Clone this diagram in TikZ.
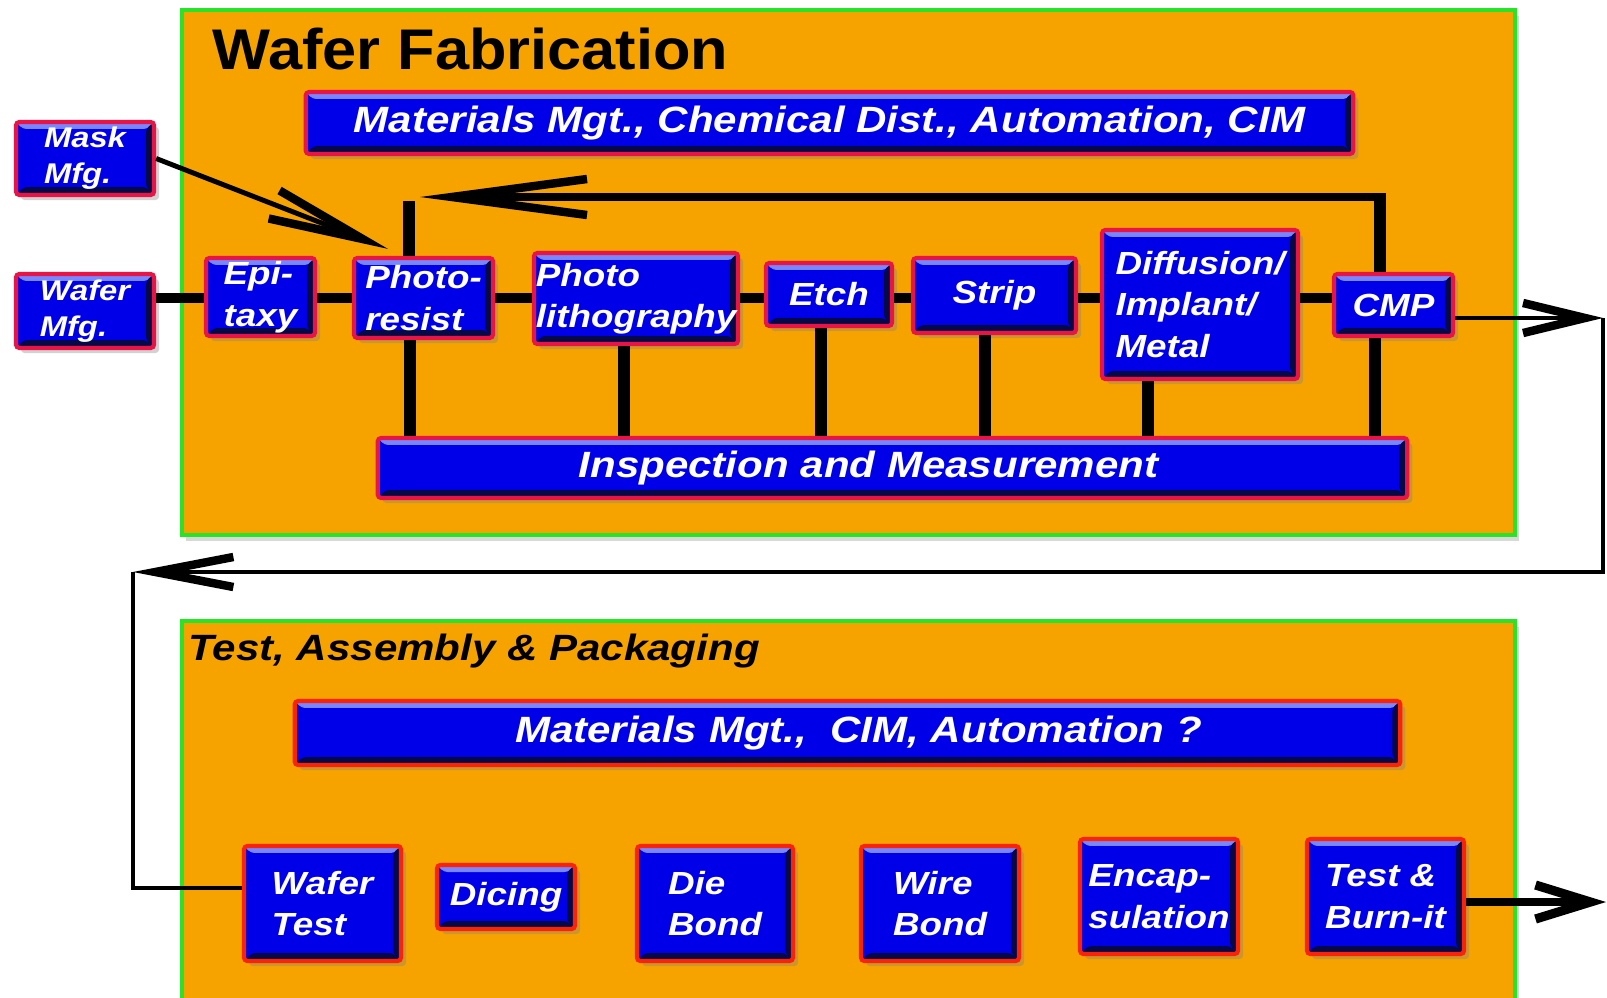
\documentclass[tikz,border=0pt]{standalone}
\usepackage{fontspec}
\setmainfont{Liberation Sans}
\newfontfamily\boxfont[FakeStretch=1.15]{Liberation Sans}
\newfontfamily\titlefont[FakeStretch=1.07]{Liberation Sans}
\usetikzlibrary{arrows.meta,shadows}

\definecolor{fondorange}{RGB}{246,163,0}
\definecolor{bordvert}{RGB}{40,228,40}
\definecolor{boitebleu}{RGB}{0,0,232}
\definecolor{boiteclair}{RGB}{120,135,255}
\definecolor{boitesombre}{RGB}{5,10,70}
\definecolor{bordrouge}{RGB}{232,20,70}
\definecolor{bordrouge2}{RGB}{250,35,10}

\tikzset{
	biseau/.style={path picture={
		\fill [boiteclair] (path picture bounding box.north west) -- (path picture bounding box.north east) -- ([shift={(-0.07cm,-0.07cm)}]path picture bounding box.north east) -- ([shift={(0.07cm,-0.07cm)}]path picture bounding box.north west) -- cycle ;
		\fill [boitesombre] (path picture bounding box.south west) -- (path picture bounding box.south east) -- ([shift={(-0.08cm,0.08cm)}]path picture bounding box.south east) -- ([shift={(0.08cm,0.08cm)}]path picture bounding box.south west) -- cycle ;
		\fill [boitesombre] (path picture bounding box.north east) -- (path picture bounding box.south east) -- ([shift={(-0.08cm,0.08cm)}]path picture bounding box.south east) -- ([shift={(-0.08cm,-0.07cm)}]path picture bounding box.north east) -- cycle ;
	}},
	boite/.style={draw=bordrouge, line width=1.2pt, fill=boitebleu, rounded corners=1pt, text=white, align=left, inner sep=0pt, biseau,
		drop shadow={shadow xshift=0.05cm, shadow yshift=-0.05cm, opacity=0.35},
		font=\boxfont\bfseries\itshape\fontsize{9.1}{11.8}\selectfont},
	boite2/.style={boite, draw=bordrouge2},
	barre/.style={boite, font=\boxfont\bfseries\itshape\fontsize{10.4}{12}\selectfont},
	petite/.style={boite, font=\boxfont\bfseries\itshape\fontsize{8.1}{10.3}\selectfont},
	panneau/.style={fill=fondorange, draw=bordvert, line width=1.3pt, drop shadow={shadow xshift=0.04cm, shadow yshift=-0.06cm, opacity=0.3}},
	chaine/.style={line width=2.8pt},
	sonde/.style={line width=3.4pt},
	retourfl/.style={line width=2pt},
	fleche/.style={line width=1.4pt},
}

\begin{document}
\begin{tikzpicture}[x=0.01cm,y=-0.01cm]
	%Cadre
	\clip (0,0) rectangle (1607,997) ;
	\fill [white] (0,0) rectangle (1607,997) ;
	%Panneaux
	\draw [panneau]		(182,10)	rectangle (1515,535)	;
	\draw [panneau]		(182,621)	rectangle (1515,1012)	;
	%Titres
	\path (212,70)	node [anchor=base west, inner sep=0pt, font=\titlefont\bfseries\fontsize{16.3}{19}\selectfont] (titre1) {Wafer Fabrication} ;
	\path (188,660)	node [anchor=base west, inner sep=0pt, font=\boxfont\bfseries\itshape\fontsize{10.4}{12}\selectfont] (titre2) {Test, Assembly \& Packaging} ;
	%Barres
	\path (829.5,123)	node [barre, minimum width=10.47cm, minimum height=0.62cm]	(materiaux)	{Materials Mgt., Chemical Dist., Automation, CIM} ;
	\path (892.5,468)	node [barre, minimum width=10.29cm, minimum height=0.60cm]	(controle)	{Inspection and Measurement\hspace*{0.48cm}} ;
	\path (847.5,733)	node [barre, draw=bordrouge2, minimum width=11.05cm, minimum height=0.64cm]	(materiaux2)	{\hspace*{0.22cm}Materials Mgt.,\ \ CIM, Automation ?} ;
	%Entrees
	\path (85,158.5)	node [petite, minimum width=1.38cm, minimum height=0.73cm]	(mask)	{Mask\\Mfg.} ;
	\path (85,311)		node [petite, minimum width=1.38cm, minimum height=0.74cm]	(wmfg)	{Wafer\\Mfg.} ;
	%Etapes fab
	\path (260.5,297)	node [boite, minimum width=1.09cm, minimum height=0.78cm]	(epi)		{Epi-\\taxy} ;
	\path (423.5,298)	node [boite, minimum width=1.39cm, minimum height=0.80cm]	(presist)	{Photo-\\resist} ;
	\path (636,298.5)	node [boite, minimum width=2.04cm, minimum height=0.91cm]	(plitho)	{Photo\\lithography} ;
	\path (829,294.5)	node [boite, minimum width=1.26cm, minimum height=0.63cm]	(etch)		{Etch} ;
	\path (994.5,295.5)	node [boite, minimum width=1.63cm, minimum height=0.75cm]	(strip)		{Strip} ;
	\path (1200,304.5)	node [boite, minimum width=1.96cm, minimum height=1.49cm]	(diff)		{Diffusion/\\Implant/\\Metal} ;
	\path (1393.5,305)	node [boite, minimum width=1.19cm, minimum height=0.62cm]	(cmp)		{CMP} ;
	%Etapes assemblage
	\path (322.5,903.5)	node [boite2, minimum width=1.57cm, minimum height=1.15cm]	(wtest)		{Wafer\\Test} ;
	\path (506,897)		node [boite2, minimum width=1.38cm, minimum height=0.64cm]	(dicing)	{Dicing} ;
	\path (715,903.5)	node [boite2, minimum width=1.56cm, minimum height=1.15cm]	(diebond)	{Die\\Bond} ;
	\path (940,903.5)	node [boite2, minimum width=1.58cm, minimum height=1.15cm]	(wirebond)	{Wire\\Bond} ;
	\path (1159,896.5)	node [boite2, minimum width=1.58cm, minimum height=1.15cm]	(encap)		{Encap-\\sulation} ;
	\path (1385.5,896.5)	node [boite2, minimum width=1.57cm, minimum height=1.15cm]	(tburn)		{Test \&\\Burn-it} ;
	%Points
	\coordinate (niv)		at (0,298)		;
	\coordinate (coin)		at (1380,197)	;
	\coordinate (pointe)	at (420,197)	;
	\coordinate (talon)		at (409,201)	;
	\coordinate (droite)	at (1603,318)	;
	\coordinate (bas)		at (1603,572)	;
	\coordinate (gauche)	at (133,572)	;
	\coordinate (entree)	at (133,888)	;
	\coordinate (sortie)	at (1606,902)	;
	%Chaine
	\draw [chaine]	(wmfg.east |- niv)		-- (epi.west |- niv)		;
	\draw [chaine]	(epi.east |- niv)		-- (presist.west |- niv)	;
	\draw [chaine]	(presist.east |- niv)	-- (plitho.west |- niv)		;
	\draw [chaine]	(plitho.east |- niv)	-- (etch.west |- niv)		;
	\draw [chaine]	(etch.east |- niv)		-- (strip.west |- niv)		;
	\draw [chaine]	(strip.east |- niv)		-- (diff.west |- niv)		;
	\draw [chaine]	(diff.east |- niv)		-- (cmp.west |- niv)		;
	%Mesures
	\draw [sonde]	(presist.south -| 410,0)	-- (controle.north -| 410,0)	;
	\draw [sonde]	(plitho.south -| 624,0)		-- (controle.north -| 624,0)	;
	\draw [sonde]	(etch.south -| 821,0)		-- (controle.north -| 821,0)	;
	\draw [sonde]	(strip.south -| 985,0)		-- (controle.north -| 985,0)	;
	\draw [sonde]	(diff.south -| 1148,0)		-- (controle.north -| 1148,0)	;
	\draw [sonde]	(cmp.south -| 1375,0)		-- (controle.north -| 1375,0)	;
	%Retour
	\draw [sonde]	(cmp.north -| coin)	-- ([yshift=0.035cm]coin)	;
	\draw [retourfl,-{Straight Barb[length=1.35cm,width=0.36cm,line width=2.4pt]}]	(coin) -- (pointe)	;
	\draw [sonde]	(presist.north -| talon)	-- (talon)	;
	%Fleches
	\draw [fleche,-{Straight Barb[length=0.95cm,width=0.3cm,line width=2.4pt]}]	(mask.east) -- ([xshift=0.36cm,yshift=0.07cm]presist.north west)	;
	\draw [fleche,-{Straight Barb[length=0.62cm,width=0.3cm,line width=2.4pt]}]	(cmp.east |- droite) -- (droite)	;
	\draw [fleche,-{Straight Barb[length=0.78cm,width=0.3cm,line width=2.4pt]}]	(droite) -- (bas) -- (gauche)	;
	\draw [fleche]	(gauche) -- (entree) -- (entree -| wtest.west)	;
	\draw [retourfl,-{Straight Barb[length=0.55cm,width=0.34cm,line width=2.6pt]}]	(tburn.east |- sortie) -- (sortie)	;
\end{tikzpicture}
\end{document}
